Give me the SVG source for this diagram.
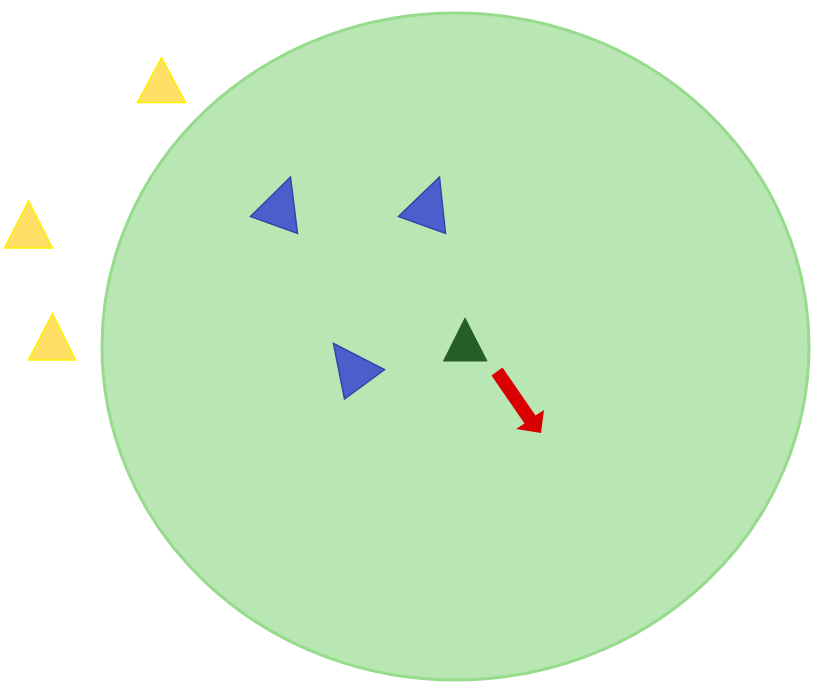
<svg xmlns="http://www.w3.org/2000/svg" width="830" height="694" viewBox="0 0 830 694">
<style>
.yel{fill:#FFE066;stroke:#FFF000;stroke-width:1.5;stroke-linejoin:miter}
.blu{fill:#4B5FCC;stroke:#3345A8;stroke-width:1.5;stroke-linejoin:miter}
</style>
<rect width="830" height="694" fill="#FFFFFF"/>
<g id="zone">
<ellipse cx="455.5" cy="346.5" rx="353.5" ry="333.5" fill="#B9E7B4" stroke="#97DB8C" stroke-width="3"/>
</g>
<g id="yellow1"><polygon class="yel" points="161.5,57.5 137.5,102.5 185.5,102.5"/></g>
<g id="yellow2"><polygon class="yel" points="28.5,201 4.5,248 52.5,248"/></g>
<g id="yellow3"><polygon class="yel" points="52.5,313.5 28.5,360 75.5,360"/></g>
<g id="blue1"><polygon class="blu" points="290.5,177 250.5,216.5 297.5,233.5"/></g>
<g id="blue2"><polygon class="blu" points="439.5,177 398.5,216.5 445.5,233.5"/></g>
<g id="blue3"><polygon class="blu" points="333.5,343.5 384.5,369.5 344.5,399"/></g>
<g id="green"><polygon points="465,318 443.5,361 487,361" fill="#275E27" stroke="#275E27" stroke-width="1"/></g>
<g id="connectors">
<polygon points="491.5,375.5 524.5,423.5 516,429 541,433 544,410 535.5,415.5 502.5,367.5" fill="#D80000"/>
</g>
</svg>
